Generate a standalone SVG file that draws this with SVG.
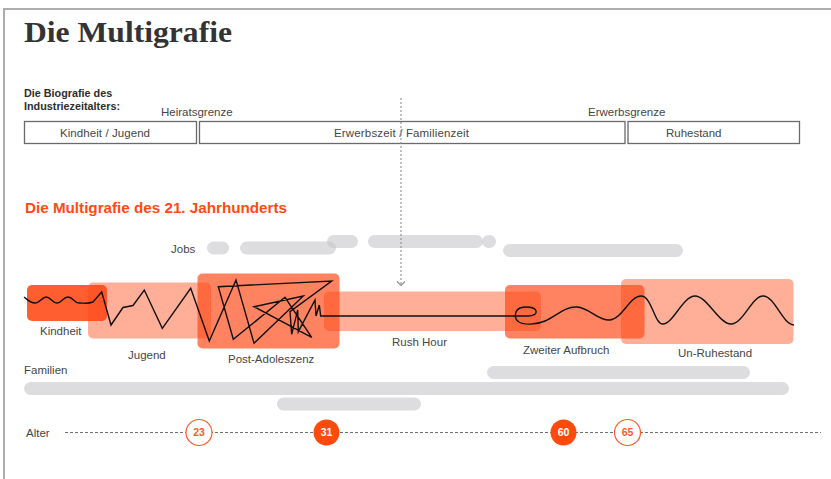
<svg xmlns="http://www.w3.org/2000/svg" width="831" height="479" viewBox="0 0 831 479">
  <style>
    .sans { font-family: "Liberation Sans", Arial, sans-serif; }
    .lbl { font-family: "Liberation Sans", Arial, sans-serif; font-size: 11.5px; fill: #464646; }
    .box { fill: #ffffff; stroke: #6a6a6a; stroke-width: 1.3; }
    .bar { fill: #c6c7ca; opacity: 0.6; }
    .phase { fill: #ff4814; }
    .light { opacity: 0.44; }
    .mid { opacity: 0.68; }
    .dark { opacity: 0.88; }
    .ring { fill: #ffffff; stroke: #ff5a2a; stroke-width: 1.2; }
    .dot { fill: #ff4a0e; }
    .num { font-family: "Liberation Sans", Arial, sans-serif; font-size: 10.5px; font-weight: bold; text-anchor: middle; }
  </style>
  <defs>
    <marker id="chev" markerWidth="10" markerHeight="10" refX="5" refY="5" orient="auto" markerUnits="userSpaceOnUse">
      <path d="M1,1 L5,5 L1,9" fill="none" stroke="#8c8c8c" stroke-width="1.1"/>
    </marker>
  </defs>

  <rect width="831" height="479" fill="#ffffff"/>
  <!-- page frame -->
  <path d="M4,479 L4,9 L831,9" fill="none" stroke="#adadad" stroke-width="2"/>

  <!-- headings -->
  <g id="title">
    <text x="24" y="41.5" font-family="'Liberation Serif', 'Times New Roman', serif" font-weight="bold" font-size="30" fill="#333333" textLength="208" lengthAdjust="spacingAndGlyphs">Die Multigrafie</text>
  </g>
  <g id="industrial-heading" class="sans" font-weight="bold" font-size="10.8" fill="#2e2e2e">
    <text x="24" y="96.5">Die Biografie des</text>
    <text x="24" y="110">Industriezeitalters:</text>
  </g>
  <g id="limits">
    <text class="lbl" x="161" y="115.5">Heiratsgrenze</text>
    <text class="lbl" x="588" y="115.5">Erwerbsgrenze</text>
  </g>

  <!-- industrial-age phases -->
  <g id="phase-kindheit-jugend">
    <rect class="box" x="24.5" y="121.5" width="172" height="22"/>
    <text class="lbl" x="60" y="137.3" font-size="12" textLength="90">Kindheit / Jugend</text>
  </g>
  <g id="phase-erwerbszeit">
    <rect class="box" x="199.5" y="121.5" width="425.5" height="22"/>
    <text class="lbl" x="334" y="137.3" font-size="12" textLength="135">Erwerbszeit / Familienzeit</text>
  </g>
  <g id="phase-ruhestand">
    <rect class="box" x="628" y="121.5" width="171.5" height="22"/>
    <text class="lbl" x="666" y="137.3" font-size="12" textLength="55.5">Ruhestand</text>
  </g>

  <g id="multigraphy-heading">
    <text class="sans" x="25" y="212.5" font-size="15.5" font-weight="bold" fill="#ff4a14" textLength="262" lengthAdjust="spacingAndGlyphs">Die Multigrafie des 21. Jahrhunderts</text>
  </g>

  <!-- jobs -->
  <g id="jobs">
    <text class="lbl" x="171" y="252.8">Jobs</text>
    <rect class="bar" x="207" y="241.5" width="22" height="13" rx="6.5"/>
    <rect class="bar" x="240" y="241.5" width="96" height="13" rx="6.5"/>
    <rect class="bar" x="327" y="235" width="31" height="13" rx="6.5"/>
    <rect class="bar" x="368" y="235" width="115" height="13" rx="6.5"/>
    <rect class="bar" x="482" y="235" width="14" height="13" rx="6.5"/>
    <rect class="bar" x="503" y="244" width="180" height="13" rx="6.5"/>
  </g>

  <!-- life phases -->
  <g id="jugend">
    <rect class="phase light" x="88" y="282.5" width="123" height="56" rx="5"/>
    <text class="lbl" x="128" y="358.5">Jugend</text>
  </g>
  <g id="kindheit">
    <rect class="phase dark" x="27" y="285" width="80" height="36" rx="5"/>
    <text class="lbl" x="40" y="335">Kindheit</text>
  </g>
  <g id="rush-hour">
    <rect class="phase light" x="324" y="291.5" width="217" height="39.5" rx="5"/>
    <text class="lbl" x="392" y="346">Rush Hour</text>
  </g>
  <g id="post-adoleszenz">
    <rect class="phase mid" x="197.5" y="273.5" width="142" height="75" rx="5"/>
    <text class="lbl" x="228" y="363">Post-Adoleszenz</text>
  </g>
  <g id="un-ruhestand">
    <rect class="phase light" x="621" y="279" width="172.5" height="65" rx="5"/>
    <text class="lbl" x="678" y="357">Un-Ruhestand</text>
  </g>
  <g id="zweiter-aufbruch">
    <rect class="phase mid" x="505" y="285" width="139.5" height="53.5" rx="5"/>
    <text class="lbl" x="523" y="353.5">Zweiter Aufbruch</text>
  </g>

  <!-- life line -->
  <g id="lifeline">
    <path fill="none" stroke="#111111" stroke-width="1.4" stroke-linejoin="miter" d="M24,297 C27,299 30,303 35,303 C40,303 42,297 46,297 C51,297 52,303 57,303 C62,303 63,297 68,297 C73,297 74,303 79,303 C84,303 88,304 93,302 L101.7,292 L111,325 L123,307.5 L133,305.5 L144.3,290 L162.3,328.3 L190.7,288.3 L209.3,341 L236,280 L254,343.3 L303.3,296 L254,306.7 L311.7,337.3 L285,297.3 L233.3,339.3 L218.3,286.7 L331.7,281 L290,311.7 L291.7,334.3 L297.7,310 L298.3,331.7 L315,300 L316,316 L319.3,305 L320.7,316 L528,316 C533,316 537,314 536,311 C535,307 526,306 520,308 C514,311 514,319 519,322 C524,325 536,325 545,321 C556,316 566,306 577,307 C590,308 598,321 610,320 C622,319 630,296 641,296 C652,296 654,324 663,324 C673,324 683,296 695,296 C707,296 719,324 731,324 C743,324 752,296 763,296 C775,296 782,324 794,325"/>
  </g>

  <!-- families -->
  <g id="familien">
    <text class="lbl" x="24" y="374">Familien</text>
    <rect class="bar" x="487" y="366" width="263" height="13" rx="6.5"/>
    <rect class="bar" x="24" y="382" width="765" height="13" rx="6.5"/>
    <rect class="bar" x="277" y="397.5" width="144" height="13" rx="6.5"/>
  </g>

  <!-- connectors -->
  <g id="connectors">
    <path d="M401,98 L401,285.5" fill="none" stroke="#8c8c8c" stroke-width="1.1" stroke-dasharray="2 2" marker-end="url(#chev)"/>
  </g>

  <!-- age axis -->
  <g id="alter">
    <text class="lbl" x="26" y="437" font-size="12">Alter</text>
    <path d="M65,432.5 L821,432.5" stroke="#6f6f6f" stroke-width="1" stroke-dasharray="3 2" fill="none"/>
  </g>
  <g id="age-23">
    <circle class="ring" cx="199" cy="432.5" r="13"/>
    <text class="num" x="199" y="436.3" fill="#ff5a2a">23</text>
  </g>
  <g id="age-31">
    <circle class="dot" cx="326.5" cy="432.5" r="13"/>
    <text class="num" x="326.5" y="436.3" fill="#ffffff">31</text>
  </g>
  <g id="age-60">
    <circle class="dot" cx="563.5" cy="432.5" r="13"/>
    <text class="num" x="563.5" y="436.3" fill="#ffffff">60</text>
  </g>
  <g id="age-65">
    <circle class="ring" cx="627.5" cy="432.5" r="13"/>
    <text class="num" x="627.5" y="436.3" fill="#ff5a2a">65</text>
  </g>
</svg>
